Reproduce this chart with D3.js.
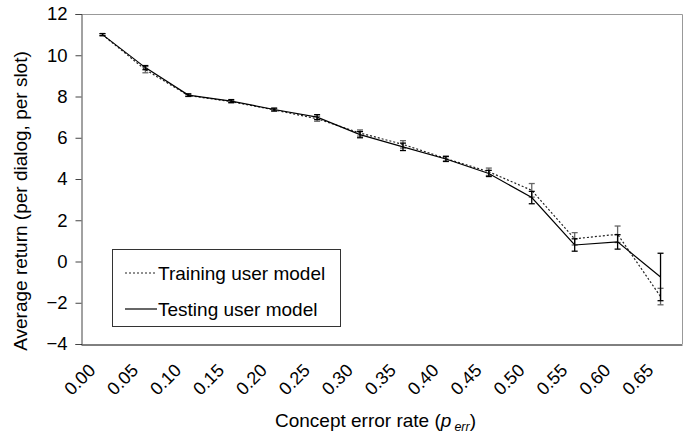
<!DOCTYPE html>
<html>
<head>
<meta charset="utf-8">
<script src="https://cdn.jsdelivr.net/npm/d3@7"></script>
<style>
  body { margin: 0; background: #fff; }
  svg { display: block; }
</style>
</head>
<body>
<script>
const categories = ["0.00", "0.05", "0.10", "0.15", "0.20", "0.25", "0.30",
                    "0.35", "0.40", "0.45", "0.50", "0.55", "0.60", "0.65"];
const training = [11.0, 9.3, 8.05, 7.75, 7.35, 6.92, 6.23, 5.68, 4.99, 4.35, 3.45, 1.1, 1.32, -1.7];
const trainingErr = [0.05, 0.15, 0.05, 0.06, 0.06, 0.12, 0.15, 0.18, 0.12, 0.18, 0.33, 0.3, 0.4, 0.4];
const testing = [11.0, 9.4, 8.07, 7.78, 7.37, 7.0, 6.15, 5.56, 4.97, 4.27, 3.1, 0.8, 0.95, -0.75];
const testingErr = [0.05, 0.1, 0.06, 0.07, 0.07, 0.12, 0.15, 0.18, 0.12, 0.15, 0.3, 0.3, 0.35, 1.15];
const yTicks = [-4, -2, 0, 2, 4, 6, 8, 10, 12];

const width = 687, height = 433;
const margin = {top: 14, right: 5, bottom: 89, left: 81};

const svg = d3.select("body").append("svg")
    .attr("width", width)
    .attr("height", height)
    .attr("font-family", "Liberation Sans, Arial, sans-serif");

const x = d3.scaleBand()
    .domain(categories)
    .range([margin.left, width - margin.right]);

const y = d3.scaleLinear()
    .domain([-4, 12])
    .range([height - margin.bottom, margin.top]);

const cx = d => x(d) + x.bandwidth() / 2;

// frame: light top and right edges
svg.append("path")
    .attr("fill", "none")
    .attr("stroke", "#999")
    .attr("d", `M${x.range()[0]},${y(12) + 0.5}H${x.range()[1] + 0.5}V${y(-4)}`);

// y axis
const yAxis = svg.append("g")
    .attr("transform", `translate(${margin.left + 0.5},0)`)
    .call(d3.axisLeft(y).tickValues(yTicks).tickSize(6).tickPadding(8).tickFormat(d3.format("d")));
yAxis.select(".domain").attr("stroke", "#444");
yAxis.selectAll(".tick line").attr("stroke", "#444");
yAxis.selectAll("text").attr("font-size", 18.5).attr("fill", "#000").attr("font-family", null);

// x axis
const xAxis = svg.append("g")
    .attr("transform", `translate(0,${y(-4) + 0.5})`)
    .call(d3.axisBottom(x).tickSize(0).tickSizeOuter(0));
xAxis.select(".domain").attr("stroke", "#000");
xAxis.selectAll("text")
    .attr("font-size", 18)
    .attr("font-family", null)
    .attr("fill", "#000")
    .attr("text-anchor", "end")
    .attr("dy", 0)
    .attr("y", 0)
    .attr("transform", "translate(-6,27) rotate(-45)");

// axis titles
const xt = svg.append("text")
    .attr("x", (x.range()[0] + x.range()[1]) / 2 - 6)
    .attr("y", 427)
    .attr("text-anchor", "middle")
    .attr("font-size", 19);
xt.append("tspan").text("Concept error rate (");
xt.append("tspan").attr("font-style", "italic").text("p");
xt.append("tspan").attr("font-style", "italic").attr("font-size", 12.5).attr("dx", 3).attr("dy", 4).text("err");
xt.append("tspan").attr("dy", -4).text(")");

svg.append("text")
    .attr("transform", `translate(27,${(y(12) + y(-4)) / 2 + 22}) rotate(-90)`)
    .attr("text-anchor", "middle")
    .attr("font-size", 19)
    .text("Average return (per dialog, per slot)");

const series = [
  {name: "Training user model", values: training, err: trainingErr, dash: "2,2", line: "#222", bar: "#666"},
  {name: "Testing user model", values: testing, err: testingErr, dash: null, line: "#000", bar: "#000"}
];

const line = d3.line()
    .x((d, i) => cx(categories[i]))
    .y(d => y(d));

const cap = 3;
series.forEach(s => {
  const g = svg.append("g");
  const bars = g.selectAll("g.err")
      .data(s.values.map((v, i) => ({v, e: s.err[i], c: categories[i]})))
      .join("g")
      .attr("stroke", s.bar)
      .attr("stroke-width", 1.3);
  bars.append("line")
      .attr("x1", d => cx(d.c)).attr("x2", d => cx(d.c))
      .attr("y1", d => y(d.v + d.e)).attr("y2", d => y(d.v - d.e));
  bars.append("line")
      .attr("x1", d => cx(d.c) - cap).attr("x2", d => cx(d.c) + cap)
      .attr("y1", d => y(d.v + d.e)).attr("y2", d => y(d.v + d.e));
  bars.append("line")
      .attr("x1", d => cx(d.c) - cap).attr("x2", d => cx(d.c) + cap)
      .attr("y1", d => y(d.v - d.e)).attr("y2", d => y(d.v - d.e));
  g.append("path")
      .datum(s.values)
      .attr("fill", "none")
      .attr("stroke", s.line)
      .attr("stroke-width", 1.2)
      .attr("stroke-dasharray", s.dash)
      .attr("d", line);
});

// legend
const legend = svg.append("g").attr("transform", "translate(112,249)");
legend.append("rect")
    .attr("x", 0.5).attr("y", 0.5)
    .attr("width", 228).attr("height", 77)
    .attr("fill", "#fff")
    .attr("stroke", "#333");
series.forEach((s, i) => {
  const ly = 24 + i * 36;
  legend.append("line")
      .attr("x1", 13).attr("x2", 45)
      .attr("y1", ly).attr("y2", ly)
      .attr("stroke", s.line)
      .attr("stroke-width", 1.2)
      .attr("stroke-dasharray", s.dash);
  legend.append("text")
      .attr("x", 46).attr("y", ly)
      .attr("dy", "0.35em")
      .attr("font-size", 19)
      .text(s.name);
});
</script>
</body>
</html>
